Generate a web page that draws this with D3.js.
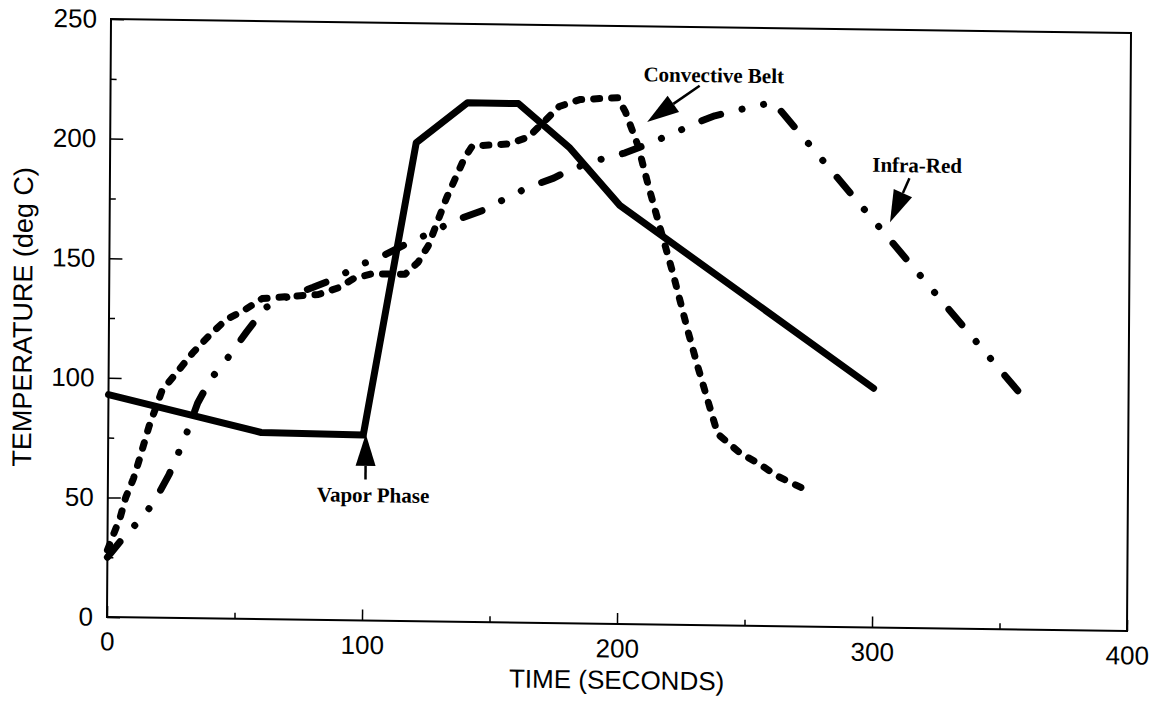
<!DOCTYPE html>
<html>
<head>
<meta charset="utf-8">
<script src="https://cdn.jsdelivr.net/npm/d3@7"></script>
<style>
  body { margin: 0; background: #fff; }
  svg { display: block; }
</style>
</head>
<body>
<div id="my_dataviz"></div>
<script>

// Vapor Phase (solid line)
var vaporTime = [0, 60, 100, 120, 140, 160, 180, 200, 300];
var vaporTemp = [93, 78, 77.5, 200, 217, 217, 199, 175, 100];

// Convective Belt (short dashes)
var convTime = [0, 2.5, 5, 7, 10, 12, 16, 21, 27, 33, 40, 46, 53, 60, 70, 82, 90, 96, 103, 116,
                121, 125, 132, 139, 142, 156, 164, 176, 184, 199, 202, 207, 211, 215, 221, 227,
                231, 239, 248, 255, 262, 268, 276];
var convTemp = [28, 35, 42, 50, 58, 65, 80, 95, 103, 111, 119, 125, 129, 134, 135, 136, 139, 143, 145, 145,
                150, 157, 177, 194, 199, 200, 203, 216, 219, 220, 214, 200, 184, 169, 147, 123,
                108, 80, 72, 68, 63, 60, 56];

// Infra-Red (dash dot dot)
var irTime = [0, 6, 12, 18, 24, 28, 31, 35, 40, 46, 54, 61, 68, 80, 89, 97, 108, 117, 125, 136,
              146, 153, 164, 174, 181, 192, 202, 209, 220, 230, 237, 248, 260, 358];
var irTemp = [25, 33, 40, 48, 60, 70, 78, 90, 100, 108, 120, 130, 134, 139, 143, 148, 153, 158, 162, 168,
              172, 176, 182, 186, 190, 194, 197, 200, 205, 210, 213, 216, 219, 98];

var xMajorTicks = [0, 100, 200, 300, 400];
var xMinorTicks = [50, 150, 250, 350];
var yMajorTicks = [0, 50, 100, 150, 200, 250];
var yMinorTicks = [25, 75, 125, 175, 225];

// labels with arrow: text anchor, arrow start, arrow tip (data units)
var notes = [
  { text: "Vapor Phase",     tx: 104,   ty: 49.5,  x0: 101, y0: 59,  x1: 101, y1: 78 },
  { text: "Convective Belt", tx: 236.5, ty: 227,   x0: 231, y0: 225.5, x1: 210.5, y1: 210 },
  { text: "Infra-Red",       tx: 316.5, ty: 190.5, x0: 313.5, y0: 188, x1: 306, y1: 169.5 }
];

var width = 1020, height = 598;

var svg = d3.select("#my_dataviz")
  .append("svg")
    .attr("width", 1159)
    .attr("height", 710);

// the scanned figure is slightly skewed, so the whole chart is drawn through a matrix
var g = svg.append("g")
  .attr("transform", "matrix(1,0.0137,-0.0067,1,111,19)");

var x = d3.scaleLinear().domain([0, 400]).range([0, width]);
var y = d3.scaleLinear().domain([0, 250]).range([height, 0]);

var sans = "'Liberation Sans', Arial, Helvetica, sans-serif";

// minor ticks
g.append("g")
  .attr("transform", "translate(0," + height + ")")
  .call(d3.axisBottom(x).tickValues(xMinorTicks).tickSize(-6).tickFormat(""));
g.append("g")
  .call(d3.axisLeft(y).tickValues(yMinorTicks).tickSize(-6).tickFormat(""));

// major ticks with labels
g.append("g")
  .attr("class", "xax")
  .attr("transform", "translate(0," + height + ")")
  .call(d3.axisBottom(x).tickValues(xMajorTicks).tickSize(-11).tickPadding(15));
g.append("g")
  .attr("class", "yax")
  .call(d3.axisLeft(y).tickValues(yMajorTicks).tickSize(-13).tickPadding(14));

g.selectAll(".domain").remove();
g.selectAll(".tick line").attr("stroke", "#000").attr("stroke-width", 1.5);
g.selectAll(".tick text")
  .attr("fill", "#000")
  .style("font-family", sans)
  .style("font-size", "26px");

// frame
g.append("rect")
  .attr("x", 0).attr("y", 0)
  .attr("width", width).attr("height", height)
  .attr("fill", "none")
  .attr("stroke", "#000")
  .attr("stroke-width", 2);

// axis titles
g.append("text")
  .attr("x", width / 2)
  .attr("y", height + 65)
  .attr("text-anchor", "middle")
  .style("font-family", sans)
  .style("font-size", "26px")
  .text("TIME (SECONDS)");

g.append("text")
  .attr("transform", "translate(-77," + (height / 2) + ") rotate(-90)")
  .attr("text-anchor", "middle")
  .style("font-family", sans)
  .style("font-size", "27px")
  .text("TEMPERATURE (deg C)");

function pairs(xs, ys) {
  return xs.map(function(d, i) { return { t: d, v: ys[i] }; });
}

var line = d3.line()
  .x(function(d) { return x(d.t); })
  .y(function(d) { return y(d.v); });

var series = [
  { data: pairs(vaporTime, vaporTemp), dash: null },
  { data: pairs(convTime, convTemp), dash: "6,12" },
  { data: pairs(irTime, irTemp), dash: "20,22,0.1,22,0.1,22" }
];

g.selectAll(".curve")
  .data(series)
  .enter()
  .append("path")
    .attr("class", "curve")
    .attr("d", function(d) { return line(d.data); })
    .attr("fill", "none")
    .attr("stroke", "#000")
    .attr("stroke-width", 7)
    .attr("stroke-linecap", "round")
    .attr("stroke-linejoin", "round")
    .attr("stroke-dasharray", function(d) { return d.dash; });

// annotations
var headLen = 32, headHalf = 10;
notes.forEach(function(n) {
  var ax = x(n.x0), ay = y(n.y0), bx = x(n.x1), by = y(n.y1);
  var dx = bx - ax, dy = by - ay, len = Math.sqrt(dx * dx + dy * dy);
  var ux = dx / len, uy = dy / len;
  var hx = bx - ux * headLen, hy = by - uy * headLen;
  g.append("line")
    .attr("x1", ax).attr("y1", ay)
    .attr("x2", hx).attr("y2", hy)
    .attr("stroke", "#000")
    .attr("stroke-width", 2.5);
  g.append("path")
    .attr("d", "M" + bx + "," + by +
               "L" + (hx - uy * headHalf) + "," + (hy + ux * headHalf) +
               "L" + (hx + uy * headHalf) + "," + (hy - ux * headHalf) + "Z")
    .attr("fill", "#000");
  g.append("text")
    .attr("x", x(n.tx))
    .attr("y", y(n.ty))
    .attr("text-anchor", "middle")
    .style("font-family", "'Liberation Serif', 'Times New Roman', serif")
    .style("font-weight", "bold")
    .style("font-size", "21px")
    .text(n.text);
});

</script>
</body>
</html>
